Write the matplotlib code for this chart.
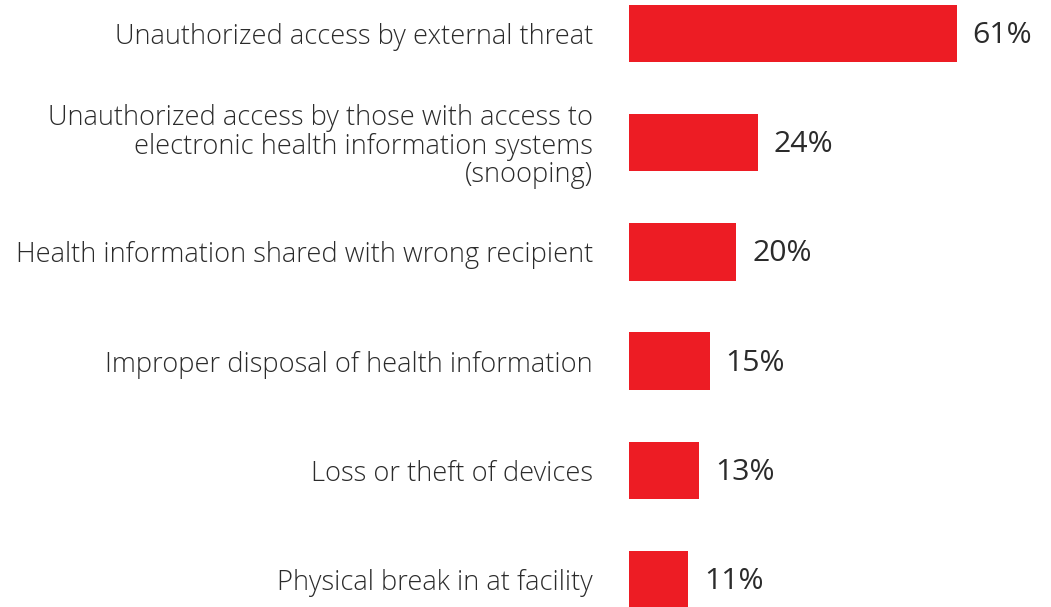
import matplotlib
matplotlib.use("Agg")
import matplotlib.pyplot as plt

categories = [
    "Unauthorized access by external threat",
    "Unauthorized access by those with access to\nelectronic health information systems\n(snooping)",
    "Health information shared with wrong recipient",
    "Improper disposal of health information",
    "Loss or theft of devices",
    "Physical break in at facility",
]
values = [61, 24, 20, 15, 13, 11]
value_labels = ["61%", "24%", "20%", "15%", "13%", "11%"]

W, H = 1051, 607
fig = plt.figure(figsize=(W / 100, H / 100), dpi=100)
ax_left = 629 / W
ax = fig.add_axes([ax_left, 0, 1 - ax_left, 1])

px_per_unit = 5.37
spacing = 109.2
pos = list(range(len(categories)))
ax.barh(pos, values, height=57.5 / spacing, color="#ED1C24", align="center")

ax.set_xlim(0, (W - 629) / px_per_unit)
ax.set_ylim(5 + (H - 579.5) / spacing, -33.5 / spacing)

ax.set_yticks(pos)
ax.set_yticklabels(categories, fontfamily="Open Sans", fontweight="light",
                   fontsize=19.6, color="#2b2b2b", linespacing=1.04)
ax.tick_params(axis="y", length=0, pad=26)
ax.set_xticks([])
for s in ax.spines.values():
    s.set_visible(False)

for p, v, lab in zip(pos, values, value_labels):
    ax.annotate(lab, xy=(v, p), xytext=(11.5, -1.5), textcoords="offset points",
                va="center", ha="left", fontsize=21.8, fontfamily="Open Sans",
                color="#2b2b2b")

fig.savefig("out.png", dpi=100)
